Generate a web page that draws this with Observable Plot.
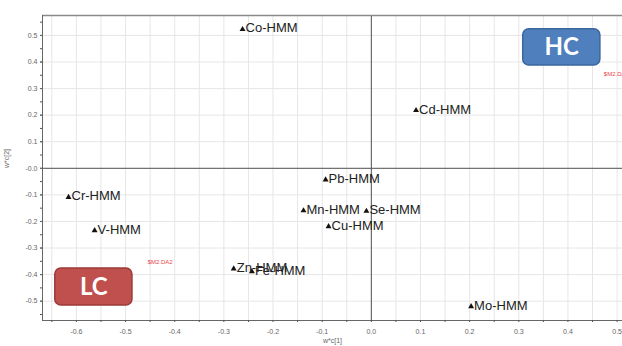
<!DOCTYPE html>
<html>
<head>
<meta charset="utf-8">
<script src="https://cdn.jsdelivr.net/npm/d3@7"></script>
<script src="https://cdn.jsdelivr.net/npm/@observablehq/plot@0.6"></script>
<style>
  html, body { margin: 0; padding: 0; background: #fff; }
  #chart svg { display: block; font-family: "Liberation Sans", Arial, sans-serif; }
</style>
</head>
<body>
<div id="chart"></div>
<script>
// Data points (w*c[1], w*c[2])
const labels = ["Co-HMM","Cd-HMM","Pb-HMM","Mn-HMM","Se-HMM","Cu-HMM","Zn-HMM","Fe-HMM","Cr-HMM","V-HMM","Mo-HMM"];
const xVals  = [-0.262, 0.091, -0.093, -0.138, -0.010, -0.087, -0.280, -0.243, -0.616, -0.563, 0.203];
const yVals  = [ 0.523, 0.218, -0.043, -0.159, -0.161, -0.219, -0.378, -0.388, -0.109, -0.234, -0.520];

// Axis ticks
const xTicks = [-0.6,-0.5,-0.4,-0.3,-0.2,-0.1,0,0.1,0.2,0.3,0.4,0.5];
const xTickLabels = ["-0.6","-0.5","-0.4","-0.3","-0.2","-0.1","0.0","0.1","0.2","0.3","0.4","0.5"];
const xMinorTicks = [-0.65,-0.6,-0.55,-0.5,-0.45,-0.4,-0.35,-0.3,-0.25,-0.2,-0.15,-0.1,-0.05,0,0.05,0.1,0.15,0.2,0.25,0.3,0.35,0.4,0.45,0.5];
const yTicks = [0.5,0.4,0.3,0.2,0.1,0,-0.1,-0.2,-0.3,-0.4,-0.5];
const yTickLabels = ["0.5","0.4","0.3","0.2","0.1","-0.0","-0.1","-0.2","-0.3","-0.4","-0.5"];
const yMinorTicks = [0.55,0.5,0.45,0.4,0.35,0.3,0.25,0.2,0.15,0.1,0.05,0,-0.05,-0.1,-0.15,-0.2,-0.25,-0.3,-0.35,-0.4,-0.45,-0.5,-0.55];
const xTitle = "w*c[1]";
const yTitle = "w*c[2]";

// Class annotation boxes (in data units)
const boxLabels = ["HC","LC"];
const boxX1 = [0.309, -0.643];
const boxX2 = [0.466, -0.486];
const boxY1 = [0.387, -0.516];
const boxY2 = [0.523, -0.377];
const boxFill = ["#4f7fbd","#c0504d"];
const boxStroke = ["#3b679e","#9c3a37"];

// Small red annotations
const noteLabels = ["$M2.DA2","$M2.DA1"];
const noteX = [-0.455, 0.473];
const noteY = [-0.354, 0.354];

const xDomain = [-0.669, 0.511];
const yDomain = [-0.5727, 0.575];

const points = labels.map((l,i) => ({label:l, x:xVals[i], y:yVals[i]}));
const boxes = boxLabels.map((l,i) => ({label:l, x1:boxX1[i], x2:boxX2[i], y1:boxY1[i], y2:boxY2[i], fill:boxFill[i], stroke:boxStroke[i]}));
const notes = noteLabels.map((l,i) => ({label:l, x:noteX[i], y:noteY[i]}));

const xFmt = d => xTickLabels[xTicks.findIndex(t => Math.abs(t-d)<1e-9)];
const yFmt = d => yTickLabels[yTicks.findIndex(t => Math.abs(t-d)<1e-9)];

const chart = Plot.plot({
  width: 622,
  height: 346,
  marginLeft: 42,
  marginRight: 0,
  marginTop: 15,
  marginBottom: 26,
  style: {background: "#fff", fontFamily: "Liberation Sans, Arial, sans-serif"},
  x: {domain: xDomain},
  y: {domain: yDomain},
  marks: [
    // grid
    Plot.ruleX(xMinorTicks, {stroke: "#e6e6e6", strokeWidth: 1}),
    Plot.ruleY(yTicks, {stroke: "#e6e6e6", strokeWidth: 1}),
    // zero lines
    Plot.ruleX([0], {stroke: "#555", strokeWidth: 1}),
    Plot.ruleY([0], {stroke: "#555", strokeWidth: 1}),
    // frame lines
    Plot.ruleY([yDomain[1]], {stroke: "#8a8a8a", strokeWidth: 1.5}),
    Plot.ruleY([yDomain[0]], {stroke: "#666", strokeWidth: 1}),
    Plot.ruleX([xDomain[0]], {stroke: "#666", strokeWidth: 1}),
    // minor tick marks
    Plot.axisX({ticks: xMinorTicks, tickFormat: () => "", tickSize: 2, stroke: "#555"}),
    Plot.axisY({ticks: yMinorTicks, tickFormat: () => "", tickSize: 2, stroke: "#555"}),
    // major tick labels
    Plot.axisX({ticks: xTicks, tickFormat: xFmt, tickSize: 0, tickPadding: 9, fontSize: 7, color: "#666", label: null}),
    Plot.axisY({ticks: yTicks, tickFormat: yFmt, tickSize: 2, tickPadding: 3, fontSize: 7, color: "#666", label: null}),
    // axis titles
    Plot.text([xTitle], {frameAnchor: "bottom", dy: 22, fontSize: 7, fill: "#666"}),
    Plot.text([yTitle], {frameAnchor: "left", dx: -36, rotate: -90, fontSize: 7, fill: "#666"}),
    // class boxes
    Plot.rect(boxes, {x1: "x1", x2: "x2", y1: "y1", y2: "y2", fill: "fill", stroke: "stroke", strokeWidth: 1.5, rx: 6}),
    Plot.text(boxes, {x: d => (d.x1+d.x2)/2, y: d => (d.y1+d.y2)/2, text: "label", fill: "#fff", fontSize: 24, fontWeight: "bold", fontFamily: "Lato, Open Sans, sans-serif"}),
    // red notes
    Plot.text(notes, {x: "x", y: "y", text: "label", fill: "#e8464a", fontSize: 6, textAnchor: "start"}),
    // points
    Plot.dot(points, {x: "x", y: "y", symbol: "triangle", r: 2.2, fill: "#111", stroke: null}),
    Plot.text(points, {x: "x", y: "y", text: "label", textAnchor: "start", dx: 3, dy: -1, fontSize: 13, fill: "#222"})
  ]
});
document.getElementById("chart").appendChild(chart);
</script>
</body>
</html>
